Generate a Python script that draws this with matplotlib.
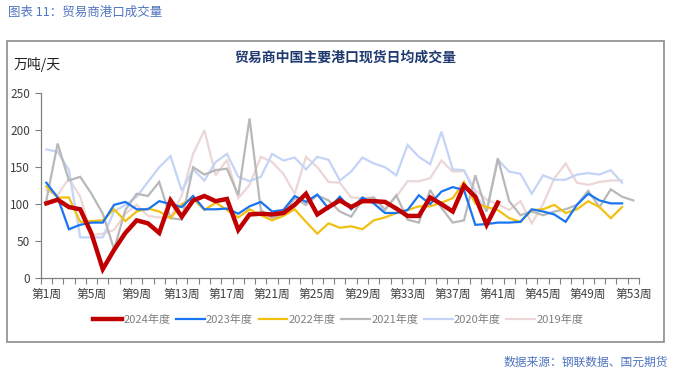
import matplotlib
matplotlib.use("Agg")
import matplotlib.pyplot as plt
import numpy as np

plt.rcParams['font.family'] = ['Noto Sans CJK SC', 'DejaVu Sans']

weeks = list(range(1, 54))
tick_weeks = [1, 5, 9, 13, 17, 21, 25, 29, 33, 37, 41, 45, 49, 53]
tick_labels = [f"第{w}周" for w in tick_weeks]

y2024 = [101, 106, 96, 93, 60, 12, 38, 61, 78, 74, 61, 105, 83, 105, 111, 104, 107, 65,
         86, 87, 86, 88, 99, 114, 86, 96, 105, 96, 104, 104, 103, 94, 84, 84, 109, 100,
         90, 125, 110, 72, 102]
y2023 = [129, 109, 66, 72, 75, 75, 99, 103, 93, 93, 104, 100, 96, 111, 93, 93, 94, 87,
         97, 103, 90, 92, 111, 103, 113, 94, 110, 93, 109, 101, 88, 88, 92, 112, 100, 117,
         123, 119, 72, 73, 75, 75, 76, 93, 90, 86, 76, 99, 114, 105, 101, 101]
y2022 = [124, 109, 109, 76, 77, 78, 93, 77, 90, 94, 90, 81, 100, 108, 92, 102, 92, 82,
         93, 85, 78, 84, 93, 76, 60, 74, 68, 70, 66, 78, 82, 88, 92, 97, 97, 102,
         108, 130, 101, 96, 92, 81, 76, 92, 93, 99, 88, 93, 104, 96, 81, 96]
y2021 = [105, 182, 132, 137, 114, 87, 39, 92, 114, 111, 130, 81, 79, 150, 140, 146, 148, 112,
         216, 92, 81, 86, 108, 99, 112, 105, 90, 83, 106, 109, 92, 112, 79, 75, 119, 95,
         75, 78, 139, 90, 162, 104, 85, 90, 85, 90, 93, 99, 118, 96, 120, 110, 105]
y2020 = [174, 171, 146, 55, 55, 55, 90, 99, 110, 130, 150, 165, 118, 147, 132, 157, 168, 137,
         131, 137, 168, 159, 163, 147, 164, 160, 132, 144, 163, 155, 150, 139, 180, 164, 154, 198,
         147, 146, 114, 90, 160, 144, 141, 114, 139, 133, 133, 140, 142, 140, 146, 129]
y2019 = [119, 112, 135, 110, 58, 60, 65, 87, 99, 84, 82, 82, 112, 168, 200, 139, 160, 108,
         126, 164, 157, 141, 114, 164, 150, 130, 129, 109, 108, 109, 94, 110, 131, 131, 135, 159,
         144, 145, 119, 106, 100, 92, 104, 74, 100, 135, 155, 129, 126, 130, 132, 132]

series = [
    ("2024年度", y2024, "#c00000", 3.2),
    ("2023年度", y2023, "#1a75f0", 1.6),
    ("2022年度", y2022, "#f2c010", 1.6),
    ("2021年度", y2021, "#b8b8b8", 1.6),
    ("2020年度", y2020, "#c4d4f6", 1.6),
    ("2019年度", y2019, "#ecd6d6", 1.6),
]

fig = plt.figure(figsize=(6.73, 3.74), dpi=100)
ax = fig.add_axes([40.7 / 673, 1 - 278 / 374, (639 - 40.7) / 673, (278 - 93.3) / 374])

handles = {}
for i, (name, vals, color, lw) in enumerate(reversed(series)):
    h, = ax.plot(weeks[:len(vals)], vals, color=color, lw=lw, label=name,
                 zorder=2 + i, solid_joinstyle='miter')
    handles[name] = h

ax.set_xlim(0.5, 53.5)
ax.set_ylim(0, 250)
ax.set_yticks([0, 50, 100, 150, 200, 250])
ax.set_xticks(tick_weeks)
ax.set_xticklabels(tick_labels)
ax.set_xticks(np.arange(0.5, 54, 1), minor=True)
ax.tick_params(axis='x', which='major', length=0, pad=7, labelsize=8.5, colors='#404040')
ax.tick_params(axis='x', which='minor', length=4, color='#808080', width=0.8)
ax.tick_params(axis='y', length=4, color='#808080', width=0.8, labelsize=8.5, colors='#404040')
for s in ['top', 'right']:
    ax.spines[s].set_visible(False)
for s in ['left', 'bottom']:
    ax.spines[s].set_color('#808080')
    ax.spines[s].set_linewidth(0.9)

ax.legend([handles[n] for n, _, _, _ in series], [n for n, _, _, _ in series],
          loc='upper center', bbox_to_anchor=(0.5 - 1.5 / 598, -(312 - 278 - 7) / 184.7),
          ncol=6, frameon=False, fontsize=8, handlelength=2.6, handletextpad=0.1,
          columnspacing=0.5, labelcolor='#808080')

# frame around chart
fig.patches.append(plt.Rectangle((7 / 673, 1 - 342 / 374), (664 - 7) / 673, (342 - 41) / 374,
                                 transform=fig.transFigure, fill=False,
                                 edgecolor='#8c8c8c', linewidth=1.2))

fig.text(345 / 673, 1 - 58 / 374, "贸易商中国主要港口现货日均成交量", ha='center', va='center',
         fontsize=10, fontweight='bold', color='#1f3a70')
fig.text(14 / 673, 1 - 64 / 374, "万吨/天", ha='left', va='center', fontsize=10, color='#202020')
fig.text(8 / 673, 1 - 12 / 374, "图表 11：贸易商港口成交量", ha='left', va='center',
         fontsize=9, color='#4f74c0')
fig.text(668 / 673, 1 - 362 / 374, "数据来源：钢联数据、国元期货", ha='right', va='center',
         fontsize=8.5, color='#4f74c0')

fig.savefig("out.png", dpi=100)
